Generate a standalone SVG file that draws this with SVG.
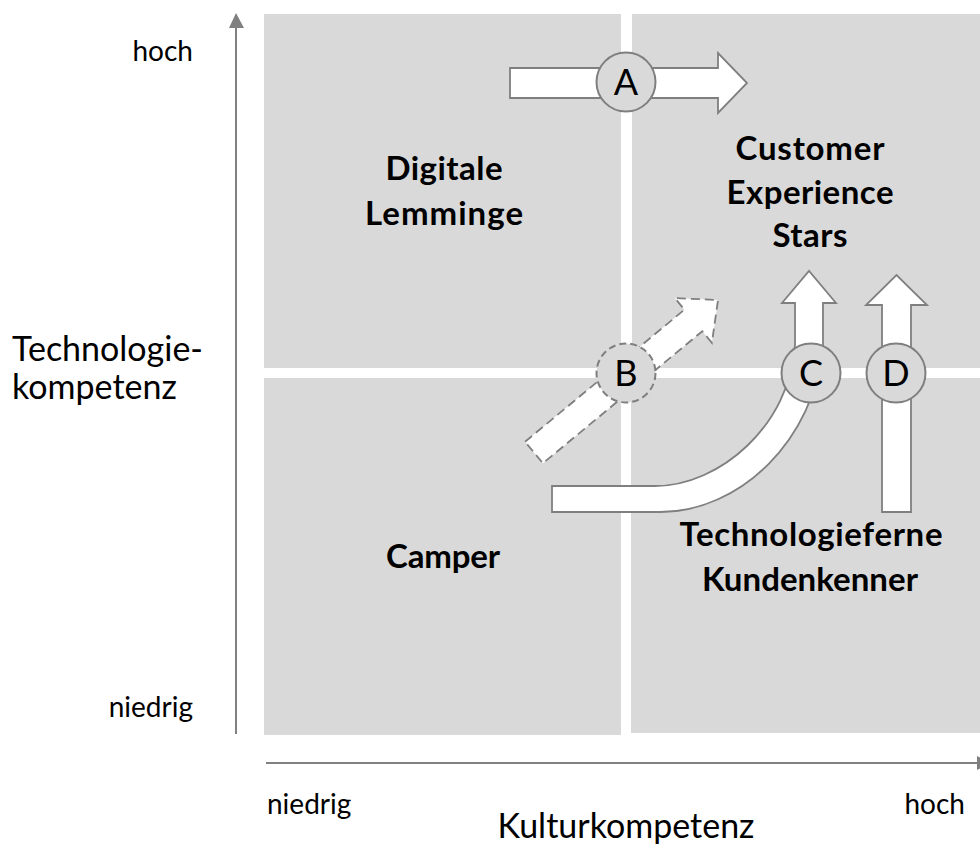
<svg xmlns="http://www.w3.org/2000/svg" width="980" height="846" viewBox="0 0 980 846">
<style>
.q{fill:#d9d9d9}
.ax{stroke:#808080;stroke-width:2;fill:none}
.ah{fill:#808080}
.t{font-family:Lato,"Liberation Sans",sans-serif;fill:#000}
.ttl{font-size:34px}
.lv{font-size:28px}
.lb{font-size:33px;font-weight:bold;text-anchor:middle}
.arr{fill:#fff;stroke:#7f7f7f;stroke-width:1.8;stroke-linejoin:miter}
.dash{stroke-dasharray:9 5}
.cir{fill:#d9d9d9;stroke:#7f7f7f;stroke-width:2}
.cl{font-size:36px;text-anchor:middle}
</style>
<g id="quadrants">
<rect id="q-tl" class="q" x="264" y="14" width="357" height="354"/>
<rect id="q-tr" class="q" x="632" y="14" width="348" height="354"/>
<rect id="q-bl" class="q" x="264" y="378" width="357" height="357"/>
<rect id="q-br" class="q" x="631" y="378" width="349" height="355"/>
</g>
<g id="axes">
<line class="ax" x1="236" y1="734" x2="236" y2="26"/>
<polygon class="ah" points="229,28 236,13 244,28"/>
<line class="ax" x1="266" y1="763" x2="979" y2="763"/>
<polygon class="ah" points="977,756 992,763 977,770"/>
</g>
<g id="axis-labels">
<text class="t lv" x="193" y="61" text-anchor="end">hoch</text>
<text class="t lv" x="193" y="717" text-anchor="end">niedrig</text>
<text class="t ttl" x="12" y="361">Technologie-</text>
<text class="t ttl" x="12" y="399">kompetenz</text>
<text class="t lv" x="267" y="814">niedrig</text>
<text class="t lv" x="965" y="814" text-anchor="end">hoch</text>
<text class="t ttl" x="626" y="838" text-anchor="middle">Kulturkompetenz</text>
</g>
<g id="quadrant-labels">
<text class="t lb" x="444" y="180" textLength="117">Digitale</text>
<text class="t lb" x="444" y="225" textLength="158">Lemminge</text>
<text class="t lb" x="810" y="160" textLength="149">Customer</text>
<text class="t lb" x="810" y="204" textLength="167">Experience</text>
<text class="t lb" x="810" y="247" textLength="75">Stars</text>
<text class="t lb" x="443" y="568" textLength="114">Camper</text>
<text class="t lb" x="811" y="546" textLength="263">Technologieferne</text>
<text class="t lb" x="810" y="591" textLength="216">Kundenkenner</text>
</g>
<g id="connectors">
<path id="arrow-a" class="arr" d="M510,68 L718,68 L718,53 L747,83 L718,113 L718,98 L510,98 Z"/>
<path id="arrow-b" class="arr dash" transform="translate(534,452.5) rotate(-39.65)" d="M0,-14 L207,-14 L207,-29 L239,0 L207,29 L207,14 L0,14 Z"/>
<path id="arrow-c" class="arr" d="M552,486 L655,486 C720,486 790,425 795,345 L795,303 L782,303 L809,271 L836,303 L823,303 L823,345 C815,440 740,512 660,512 L552,512 Z"/>
<path id="arrow-d" class="arr" d="M882,512 L882,305 L866,305 L896.5,275 L927,305 L911,305 L911,512 Z"/>
</g>
<g id="node-a">
<circle class="cir" cx="626" cy="82" r="29.5"/>
<text class="t cl" x="626" y="95">A</text>
</g>
<g id="node-b">
<circle class="cir dash" cx="626" cy="373" r="29.5" style="stroke-dasharray:7 4"/>
<text class="t cl" x="626" y="386">B</text>
</g>
<g id="node-c">
<circle class="cir" cx="811" cy="373" r="29.5"/>
<text class="t cl" x="811" y="386">C</text>
</g>
<g id="node-d">
<circle class="cir" cx="896" cy="373" r="29.5"/>
<text class="t cl" x="896" y="386">D</text>
</g>
</svg>
